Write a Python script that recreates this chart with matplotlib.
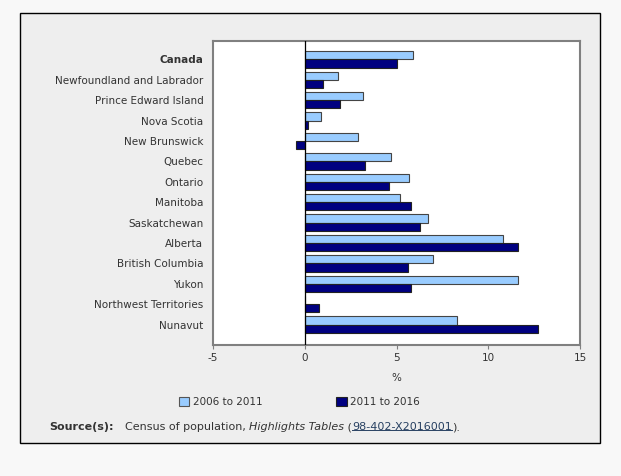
import numpy as np
import matplotlib
matplotlib.use('Agg')
import matplotlib.pyplot as plt
from matplotlib.patches import Rectangle, Patch
from matplotlib.lines import Line2D

regions = ['Canada', 'Newfoundland and Labrador', 'Prince Edward Island', 'Nova Scotia',
           'New Brunswick', 'Quebec', 'Ontario', 'Manitoba', 'Saskatchewan', 'Alberta',
           'British Columbia', 'Yukon', 'Northwest Territories', 'Nunavut']
growth_2006_2011 = [5.9, 1.8, 3.2, 0.9, 2.9, 4.7, 5.7, 5.2, 6.7, 10.8, 7.0, 11.6, 0.0, 8.3]
growth_2011_2016 = [5.0, 1.0, 1.9, 0.2, -0.5, 3.3, 4.6, 5.8, 6.3, 11.6, 5.6, 5.8, 0.8, 12.7]
xticks = [-5, 0, 5, 10, 15]
series_labels = ['2006 to 2011', '2011 to 2016']

light = '#99ccff'
dark = '#000080'
txt = '#333333'

W, H = 621, 476
fig = plt.figure(figsize=(W / 100, H / 100), dpi=100)
fig.patch.set_facecolor('#f8f8f8')

# grey panel with black border
fig.add_artist(Rectangle((19.5 / W, 1 - 443 / H), (600 - 19.5) / W, (443 - 12.5) / H,
                         transform=fig.transFigure, facecolor='#eeeeee',
                         edgecolor='black', linewidth=1.0, zorder=0))

ax = fig.add_axes([213 / W, 1 - 345 / H, (580 - 213) / W, (345 - 41) / H])
ax.set_facecolor('white')

y = np.arange(len(regions))
ax.barh(y - 0.2, growth_2006_2011, height=0.4, color=light, edgecolor='#444444', linewidth=0.8, zorder=2)
ax.barh(y + 0.2, growth_2011_2016, height=0.4, color=dark, edgecolor='#222222', linewidth=0.8, zorder=2)
ax.axvline(0, color='black', linewidth=0.9, zorder=3)

ax.set_xlim(-5, 15)
ax.set_ylim(14.0, -0.9)
ax.set_xticks(xticks)
ax.set_xticklabels([str(v) for v in xticks], fontsize=7.5, color=txt)
ax.set_yticks(y)
ax.set_yticklabels(regions, fontsize=7.5, color=txt)
ax.get_yticklabels()[0].set_fontweight('bold')
ax.tick_params(axis='y', length=0, pad=7)
ax.tick_params(axis='x', length=3, width=0.8, color='#808080', pad=3)
for s in ax.spines.values():
    s.set_color('#808080')
    s.set_linewidth(1.5)

fig.text(396.5 / W, 1 - 378 / H, '%', ha='center', va='center', fontsize=7.5, color=txt)

handles = [Patch(facecolor=light, edgecolor='#555555', linewidth=0.8),
           Patch(facecolor=dark, edgecolor='#222222', linewidth=0.8)]
leg = fig.legend(handles, series_labels, loc='center left', bbox_to_anchor=(179 / W, 1 - 402 / H),
                 ncol=2, frameon=False, fontsize=7.5, handlelength=1.0, handleheight=1.0,
                 handletextpad=0.3, columnspacing=7.1, borderpad=0, borderaxespad=0)
for t in leg.get_texts():
    t.set_color(txt)

# source line
fs = 8
t1 = fig.text(49 / W, 1 - 427 / H, 'Source(s):', fontweight='bold', fontsize=fs, color=txt, va='center')
t2 = ax.annotate('Census of population, ', xy=(1, 0), xycoords=t1, xytext=(8, 0),
                 textcoords='offset points', fontsize=fs, color=txt, va='bottom', annotation_clip=False)
t3 = ax.annotate('Highlights Tables', xy=(1, 0), xycoords=t2, fontsize=fs, color=txt,
                 style='italic', va='bottom', annotation_clip=False)
t4 = ax.annotate(' (', xy=(1, 0), xycoords=t3, fontsize=fs, color=txt, va='bottom', annotation_clip=False)
t5 = ax.annotate('98-402-X2016001', xy=(1, 0), xycoords=t4, fontsize=fs, color='#284162',
                 va='bottom', annotation_clip=False)
t6 = ax.annotate(').', xy=(1, 0), xycoords=t5, fontsize=fs, color=txt, va='bottom', annotation_clip=False)

fig.canvas.draw()
bb = t5.get_window_extent()
uy = (bb.y0 + 2) / H
fig.add_artist(Line2D([bb.x0 / W, bb.x1 / W], [uy, uy], transform=fig.transFigure,
                      color='#284162', linewidth=0.7))

fig.savefig('out.png', dpi=100, facecolor=fig.get_facecolor())
